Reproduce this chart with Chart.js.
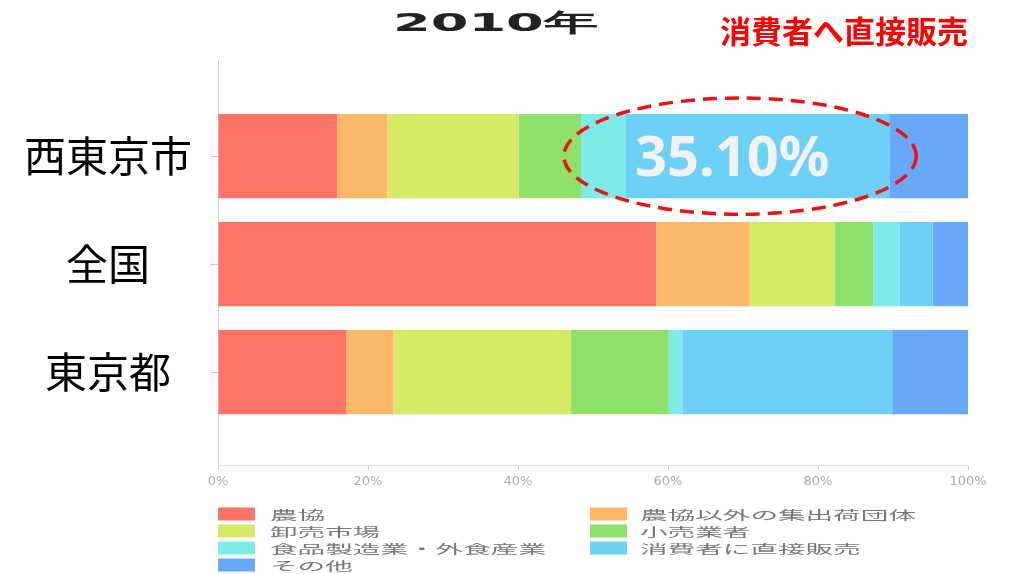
<!DOCTYPE html>
<html><head><meta charset="utf-8">
<script src="https://cdn.jsdelivr.net/npm/chart.js@4/dist/chart.umd.min.js"></script>
<style>html,body{margin:0;padding:0;background:#fff;overflow:hidden}#wrap{width:1010px;height:574px}</style>
</head><body><div id="wrap"><canvas id="c" width="1010" height="574"></canvas></div>
<script>
const chartTitle = '2010年';
const annotationText = '消費者へ直接販売';
const categories = ['西東京市', '全国', '東京都'];
const seriesNames = ['農協', '農協以外の集出荷団体', '卸売市場', '小売業者', '食品製造業・外食産業', '消費者に直接販売', 'その他'];
const nokyo         = [15.9, 58.4, 17.1];
const otherShippers = [6.7, 12.5, 6.3];
const wholesale     = [17.5, 11.3, 23.6];
const retail        = [8.3, 5.2, 13.1];
const foodIndustry  = [6.0, 3.5, 1.8];
const directSales   = [35.1, 4.4, 28.0];
const others        = [10.5, 4.7, 10.1];
const xTicks = [0, 20, 40, 60, 80, 100];
const colors = ['#FF7366', '#FDB968', '#D6EA66', '#8EE06A', '#7EEBEB', '#6DD0F6', '#68A8F8'];
const highlightCategory = 0;   // 西東京市
const highlightSeries = 5;     // 消費者に直接販売
const highlightFrom = 4;       // ellipse starts at 食品製造業・外食産業

const series = [nokyo, otherShippers, wholesale, retail, foodIndustry, directSales, others];

const datasets = series.map((vals, k) => ({
  label: seriesNames[k],
  data: vals.map((v, i) => ({ x: v, y: i })),
  backgroundColor: colors[k],
  borderWidth: 0,
  barPercentage: 0.78,
  categoryPercentage: 1
}));

const overlay = {
  id: 'overlay',
  afterDatasetsDraw(chart) {
    // stretched look for the x tick labels (x scale is drawn after datasets, z:1)
    chart.ctx.letterSpacing = '7px';
  },
  afterDraw(chart) {
    const ctx = chart.ctx;
    ctx.letterSpacing = '0px';
    // title (horizontally stretched)
    ctx.save();
    ctx.font = 'bold 25px "DejaVu Sans"';
    ctx.fillStyle = '#222';
    ctx.textBaseline = 'alphabetic';
    const tw = ctx.measureText(chartTitle).width;
    const targetW = 205;
    ctx.translate(393, 31);
    ctx.scale(targetW / tw, 1);
    ctx.fillText(chartTitle, 0, 0);
    ctx.restore();

    // red annotation
    ctx.save();
    ctx.font = 'bold 31px "Noto Sans CJK JP"';
    ctx.fillStyle = '#FF0000';
    ctx.textAlign = 'right';
    ctx.fillText(annotationText, chart.chartArea.right, 43);
    ctx.restore();

    // ellipse around highlighted segments
    const a = chart.getDatasetMeta(highlightFrom).data[highlightCategory];
    const b = chart.getDatasetMeta(highlightSeries).data[highlightCategory];
    const left = Math.min(a.base, a.x), right = Math.max(b.x, b.base);
    const cx = (left + right) / 2 + 5, cy = b.y;
    const rx = (right - left) / 2 + 22, ry = b.height / 2 + 16;
    ctx.save();
    ctx.strokeStyle = '#EE1111';
    ctx.lineWidth = 3.5;
    ctx.setLineDash([14, 8]);
    ctx.beginPath();
    ctx.ellipse(cx, cy, rx, ry, 0, 0, Math.PI * 2);
    ctx.stroke();
    ctx.restore();

    // value label
    const val = series[highlightSeries][highlightCategory];
    ctx.save();
    ctx.font = 'bold 56px "Noto Sans"';
    ctx.fillStyle = '#F2F2F2';
    ctx.textAlign = 'center';
    ctx.textBaseline = 'alphabetic';
    ctx.fillText(val.toFixed(2) + '%', cx - 8, cy + 20);
    ctx.restore();

    // legend (2 columns, stretched text)
    const colBox = [218, 590], colText = [270, 640];
    const rowY = [514, 531, 548, 565];
    seriesNames.forEach((name, i) => {
      const c = i % 2, r = Math.floor(i / 2);
      ctx.save();
      ctx.fillStyle = colors[i];
      ctx.fillRect(colBox[c], rowY[r] - 6.5, 37, 13);
      ctx.font = '12px "Noto Sans CJK JP"';
      ctx.fillStyle = '#777';
      ctx.textBaseline = 'middle';
      ctx.translate(colText[c], rowY[r] + 1);
      ctx.scale(2.3, 1);
      ctx.fillText(name, 0, 0);
      ctx.restore();
    });
  }
};

new Chart(document.getElementById('c'), {
  type: 'bar',
  data: { datasets },
  plugins: [overlay],
  options: {
    indexAxis: 'y',
    responsive: false,
    animation: false,
    events: [],
    layout: { padding: { top: 60, bottom: 79, left: 0, right: 42 } },
    plugins: { legend: { display: false }, title: { display: false }, tooltip: { enabled: false } },
    scales: {
      x: {
        stacked: true, min: 0, max: 100, z: 1,
        afterBuildTicks: s => { s.ticks = xTicks.map(v => ({ value: v })); },
        ticks: { callback: v => v + '%', color: '#aaa', font: { size: 13, family: '"DejaVu Sans"' }, padding: 4, maxRotation: 0, autoSkip: false },
        grid: { drawOnChartArea: false, drawTicks: true, tickLength: 5, color: '#ccc' },
        border: { color: '#ddd' },
        afterFit: s => { s.height = 30; }
      },
      y: {
        type: 'linear', stacked: true, reverse: true, min: -0.89, max: 2.86,
        offset: false,
        afterBuildTicks: s => { s.ticks = categories.map((c, i) => ({ value: i })); },
        ticks: { callback: v => categories[v], color: '#000', font: { size: 42, family: '"Noto Sans CJK JP"' }, crossAlign: 'center', padding: 18, autoSkip: false },
        grid: { drawOnChartArea: false, tickLength: 8, color: '#ccc', offset: false },
        border: { color: '#ccc' },
        afterFit: s => { s.width = 218; }
      }
    }
  }
});
</script>
</body></html>
